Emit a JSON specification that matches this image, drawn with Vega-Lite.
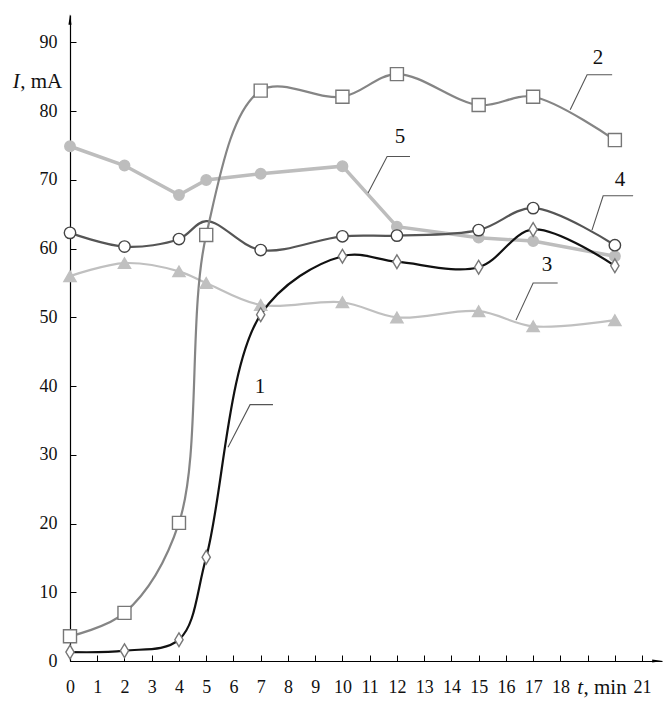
{
  "$schema": "https://vega.github.io/schema/vega-lite/v6.json",
  "width": 592,
  "height": 646,
  "autosize": {"type": "none"},
  "padding": {"left": 70, "top": 15, "right": 3, "bottom": 44},
  "background": "white",
  "config": {
    "view": {"stroke": null},
    "axis": {"grid": false, "labelFont": "Liberation Serif", "labelFontSize": 18, "labelColor": "#111", "domainColor": "#000", "tickColor": "#000", "domainWidth": 1.2, "tickWidth": 1, "title": null},
    "text": {"font": "Liberation Serif", "fontSize": 20, "color": "#111"}
  },
  "datasets": {
    "series": [
      {"s": "5", "t": 0, "I": 74.9}, {"s": "5", "t": 2, "I": 72.1}, {"s": "5", "t": 4, "I": 67.8}, {"s": "5", "t": 5, "I": 70.0}, {"s": "5", "t": 7, "I": 70.9}, {"s": "5", "t": 10, "I": 72.0}, {"s": "5", "t": 12, "I": 63.2}, {"s": "5", "t": 15, "I": 61.6}, {"s": "5", "t": 17, "I": 61.1}, {"s": "5", "t": 20, "I": 58.9},
      {"s": "3", "t": 0, "I": 56.0}, {"s": "3", "t": 2, "I": 57.9}, {"s": "3", "t": 4, "I": 56.7}, {"s": "3", "t": 5, "I": 55.0}, {"s": "3", "t": 7, "I": 51.8}, {"s": "3", "t": 10, "I": 52.2}, {"s": "3", "t": 12, "I": 50.0}, {"s": "3", "t": 15, "I": 50.9}, {"s": "3", "t": 17, "I": 48.7}, {"s": "3", "t": 20, "I": 49.6},
      {"s": "4", "t": 0, "I": 62.3}, {"s": "4", "t": 2, "I": 60.3}, {"s": "4", "t": 4, "I": 61.4}, {"s": "4", "t": 5, "I": 64.0}, {"s": "4", "t": 7, "I": 59.8}, {"s": "4", "t": 10, "I": 61.8}, {"s": "4", "t": 12, "I": 61.9}, {"s": "4", "t": 15, "I": 62.7}, {"s": "4", "t": 17, "I": 65.9}, {"s": "4", "t": 20, "I": 60.5},
      {"s": "2", "t": 0, "I": 3.6}, {"s": "2", "t": 2, "I": 7.0}, {"s": "2", "t": 4, "I": 20.1}, {"s": "2", "t": 5, "I": 62.0}, {"s": "2", "t": 7, "I": 83.0}, {"s": "2", "t": 10, "I": 82.1}, {"s": "2", "t": 12, "I": 85.4}, {"s": "2", "t": 15, "I": 80.9}, {"s": "2", "t": 17, "I": 82.1}, {"s": "2", "t": 20, "I": 75.8},
      {"s": "1", "t": 0, "I": 1.3}, {"s": "1", "t": 2, "I": 1.5}, {"s": "1", "t": 4, "I": 3.1}, {"s": "1", "t": 5, "I": 15.1}, {"s": "1", "t": 7, "I": 50.4}, {"s": "1", "t": 10, "I": 58.9}, {"s": "1", "t": 12, "I": 58.1}, {"s": "1", "t": 15, "I": 57.3}, {"s": "1", "t": 17, "I": 62.8}, {"s": "1", "t": 20, "I": 57.5}
    ],
    "leaders": [
      {"id": "1", "k": 0, "t": 5.80, "I": 31.1}, {"id": "1", "k": 1, "t": 6.61, "I": 37.3}, {"id": "1", "k": 2, "t": 7.45, "I": 37.3},
      {"id": "2", "k": 0, "t": 18.36, "I": 80.2}, {"id": "2", "k": 1, "t": 18.98, "I": 85.3}, {"id": "2", "k": 2, "t": 19.9, "I": 85.3},
      {"id": "5", "k": 0, "t": 10.94, "I": 68.1}, {"id": "5", "k": 1, "t": 11.64, "I": 73.4}, {"id": "5", "k": 2, "t": 12.48, "I": 73.4},
      {"id": "4", "k": 0, "t": 19.16, "I": 62.7}, {"id": "4", "k": 1, "t": 19.57, "I": 67.7}, {"id": "4", "k": 2, "t": 20.67, "I": 67.7},
      {"id": "3", "k": 0, "t": 16.37, "I": 49.6}, {"id": "3", "k": 1, "t": 17.0, "I": 55.0}, {"id": "3", "k": 2, "t": 17.9, "I": 55.0}
    ],
    "labels": [
      {"label": "1", "t": 6.97, "I": 39.9},
      {"label": "2", "t": 19.38, "I": 87.8},
      {"label": "5", "t": 12.11, "I": 76.3},
      {"label": "4", "t": 20.19, "I": 70.0},
      {"label": "3", "t": 17.51, "I": 57.6}
    ]
  },
  "encoding": {
    "x": {"field": "t", "type": "quantitative", "scale": {"domain": [0, 21.73], "nice": false, "zero": false},
      "axis": {"values": [0,1,2,3,4,5,6,7,8,9,10,11,12,13,14,15,16,17,18,19,20,21], "labelExpr": "datum.value == 19 || datum.value == 20 ? '' : datum.label", "tickSize": -6, "labelPadding": 23, "labelFlush": false}},
    "y": {"field": "I", "type": "quantitative", "scale": {"domain": [0, 94], "nice": false},
      "axis": {"values": [0,10,20,30,40,50,60,70,80,90], "tickSize": -6, "labelPadding": 19, "labelBaseline": "middle"}}
  },
  "layer": [
    {
      "data": {"name": "series"},
      "transform": [{"filter": "datum.s == '5'"}],
      "mark": {"type": "line", "interpolate": "linear", "color": "#bdbdbd", "strokeWidth": 3.5},
      "encoding": {}
    },
    {
      "data": {"name": "series"},
      "transform": [{"filter": "datum.s != '5'"}],
      "mark": {"type": "line", "interpolate": "catmull-rom"},
      "encoding": {
        "detail": {"field": "s"},
        "color": {"field": "s", "type": "nominal", "legend": null, "scale": {"domain": ["1","2","3","4"], "range": ["#111111", "#858585", "#c0c0c0", "#555555"]}},
        "strokeWidth": {"field": "s", "type": "ordinal", "legend": null, "scale": {"domain": ["1","2","3","4"], "range": [2.2, 2.2, 2.6, 2.2]}}
      }
    },
    {
      "data": {"name": "series"},
      "transform": [{"filter": "!(datum.s == '4' && datum.t == 5)"}],
      "mark": {"type": "point", "filled": true, "opacity": 1, "strokeWidth": 1.4},
      "encoding": {
        "shape": {"field": "s", "type": "nominal", "legend": null, "scale": {"domain": ["1","2","3","4","5"], "range": ["M0,-1L0.6,0L0,1L-0.6,0Z", "square", "triangle-up", "circle", "circle"]}},
        "fill": {"field": "s", "type": "nominal", "legend": null, "scale": {"domain": ["1","2","3","4","5"], "range": ["#ffffff", "#ffffff", "#c0c0c0", "#ffffff", "#bdbdbd"]}},
        "stroke": {"field": "s", "type": "nominal", "legend": null, "scale": {"domain": ["1","2","3","4","5"], "range": ["#777777", "#777777", "#c0c0c0", "#444444", "#bdbdbd"]}},
        "size": {"field": "s", "type": "ordinal", "legend": null, "scale": {"domain": ["1","2","3","4","5"], "range": [190, 110, 70, 115, 60]}}
      }
    },
    {
      "data": {"name": "leaders"},
      "mark": {"type": "line", "color": "#555555", "strokeWidth": 1.1, "interpolate": "linear"},
      "encoding": {"detail": {"field": "id"}, "order": {"field": "k", "type": "quantitative"}}
    },
    {
      "data": {"name": "labels"},
      "mark": {"type": "text", "fontSize": 21, "align": "center", "baseline": "middle"},
      "encoding": {"text": {"field": "label"}}
    },
    {
      "data": {"values": [{"t": -1.84, "I": 84.3, "txt": "I"}, {"t": 18.83, "I": -3.9, "txt": "t"}]},
      "mark": {"type": "text", "fontSize": 21, "fontStyle": "italic", "align": "right", "baseline": "middle", "clip": false},
      "encoding": {"text": {"field": "txt"}}
    },
    {
      "data": {"values": [{"t": -1.83, "I": 84.3, "txt": ", mA"}, {"t": 18.85, "I": -3.9, "txt": ", min"}]},
      "mark": {"type": "text", "fontSize": 21, "align": "left", "baseline": "middle", "clip": false},
      "encoding": {"text": {"field": "txt"}}
    },
    {
      "data": {"values": [{"t": 0, "I": 93.1, "dir": "up"}, {"t": 21.5, "I": 0, "dir": "right"}]},
      "mark": {"type": "point", "shape": "wedge", "filled": true, "color": "#000", "size": 150, "opacity": 1, "clip": false},
      "encoding": {"angle": {"field": "dir", "type": "nominal", "legend": null, "scale": {"domain": ["up", "right"], "range": [0, 90]}}}
    }
  ]
}
